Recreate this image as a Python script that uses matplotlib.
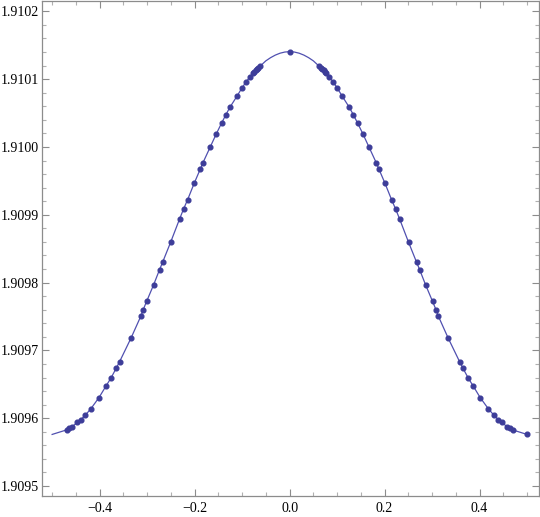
import matplotlib
matplotlib.use("Agg")
import matplotlib.pyplot as plt
from matplotlib.ticker import MultipleLocator, FuncFormatter

right_x = [0.0, 0.0624, 0.0659, 0.0687, 0.0715, 0.0743, 0.0771, 0.0834, 0.0912,
           0.1002, 0.1108, 0.1255, 0.1340, 0.1432, 0.1543, 0.1669, 0.1824, 0.1880,
           0.2006, 0.2147, 0.2232, 0.2316, 0.2505, 0.2674, 0.2737, 0.2863, 0.3011,
           0.3086, 0.3128, 0.3339, 0.3579, 0.3648, 0.3760, 0.3865, 0.4013, 0.4181,
           0.4301, 0.4392, 0.4469, 0.4575, 0.4644, 0.4695, 0.5]
right_y = [1.9101405, 1.9101190, 1.9101170, 1.9101151, 1.9101131, 1.9101111,
           1.9101087, 1.9101033, 1.9100964, 1.9100871, 1.9100749, 1.9100587,
           1.9100478, 1.9100352, 1.9100194, 1.9100003, 1.9099768, 1.9099675,
           1.9099469, 1.9099223, 1.9099086, 1.9098939, 1.9098595, 1.9098300,
           1.9098193, 1.9097968, 1.9097722, 1.9097594, 1.9097512, 1.9097182,
           1.9096835, 1.9096741, 1.9096594, 1.9096476, 1.9096305, 1.9096143,
           1.9096045, 1.9095981, 1.9095937, 1.9095878, 1.9095849, 1.9095828,
           1.9095761]

# sampled points, left half (x < 0)
left_x = [-0.0624, -0.0659, -0.0687, -0.0715, -0.0743, -0.0771, -0.0834, -0.0912,
          -0.1002, -0.1108, -0.1255, -0.1340, -0.1432, -0.1543, -0.1669, -0.1824,
          -0.1880, -0.2006, -0.2147, -0.2232, -0.2316, -0.2505, -0.2674, -0.2737,
          -0.2863, -0.3011, -0.3086, -0.3128, -0.3339, -0.3579, -0.3648, -0.3760,
          -0.3865, -0.4013, -0.4181, -0.4301, -0.4392, -0.4469, -0.4575, -0.4644,
          -0.4695]
left_y = [1.9101190, 1.9101170, 1.9101151, 1.9101131, 1.9101111, 1.9101087,
          1.9101033, 1.9100964, 1.9100871, 1.9100749, 1.9100587, 1.9100478,
          1.9100352, 1.9100194, 1.9100003, 1.9099768, 1.9099675, 1.9099469,
          1.9099223, 1.9099086, 1.9098939, 1.9098595, 1.9098300, 1.9098193,
          1.9097968, 1.9097722, 1.9097594, 1.9097512, 1.9097182, 1.9096835,
          1.9096741, 1.9096594, 1.9096476, 1.9096305, 1.9096143, 1.9096045,
          1.9095981, 1.9095937, 1.9095878, 1.9095849, 1.9095828]

# extra curve points where the line has no dots (peak and left end)
extra_x = [-0.5, -0.05, -0.04, -0.03, -0.02, -0.01, 0.01, 0.02, 0.03, 0.04, 0.05]
extra_y = [1.9095761, 1.9101270, 1.9101317, 1.9101355, 1.9101383, 1.9101400,
           1.9101400, 1.9101383, 1.9101355, 1.9101317, 1.9101270]

x_ticks = [-0.4, -0.2, 0.0, 0.2, 0.4]
y_ticks = [1.9095, 1.9096, 1.9097, 1.9098, 1.9099, 1.9100, 1.9101, 1.9102]

col = "#3d3d99"
frame = "#8c8c8c"

plt.rcParams['font.family'] = ['Liberation Serif', 'DejaVu Serif']

fig = plt.figure(figsize=(5.4, 5.17), dpi=100)
ax = fig.add_axes([0.0772, 0.0406, 0.9208, 0.9574])

pts = sorted(zip(left_x + right_x, left_y + right_y))
curve = sorted(pts + list(zip(extra_x, extra_y)))
ax.plot([p[0] for p in curve], [p[1] for p in curve], color="#5050b0", lw=0.9)
ax.plot([p[0] for p in pts], [p[1] for p in pts], "o", color=col, ms=3.4, mec=col)

ax.set_xlim(-0.522, 0.525)
ax.set_ylim(1.9094853, 1.9102152)

ax.set_xticks(x_ticks)
ax.set_yticks(y_ticks)
ax.xaxis.set_minor_locator(MultipleLocator(0.05))
ax.yaxis.set_minor_locator(MultipleLocator(0.00002))
ax.xaxis.set_major_formatter(FuncFormatter(lambda v, p: ("%.1f" % v).replace("-", "\u2212")))
ax.yaxis.set_major_formatter(FuncFormatter(lambda v, p: "%.4f" % v))

for s in ax.spines.values():
    s.set_color(frame)
    s.set_linewidth(0.9)
ax.tick_params(which="both", direction="in", top=True, right=True,
               color=frame, labelsize=10, width=0.8)
ax.tick_params(which="major", length=5)
ax.tick_params(which="minor", length=3, color="#b0b0b0")
ax.tick_params(axis="x", pad=4)
ax.tick_params(axis="y", pad=2)

fig.savefig("out.png", dpi=100)
